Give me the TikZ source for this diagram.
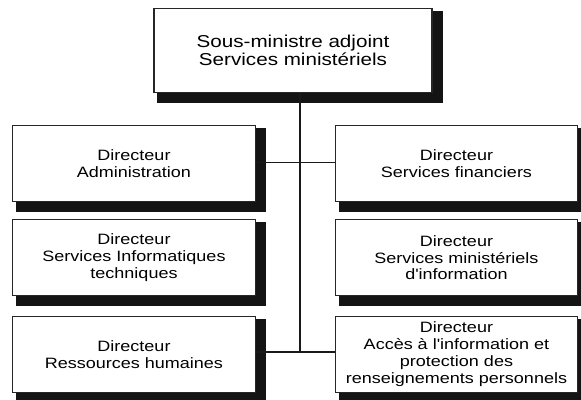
\documentclass[tikz,border=0pt]{standalone}
\usepackage{fontspec}
\newfontfamily\orgfont[FakeStretch=1.2]{Liberation Sans}
\usetikzlibrary{backgrounds}
\tikzset{
  box/.style={draw=black!85, line width=1.1pt, fill=white, align=center, inner sep=0pt,
    font=\orgfont\fontsize{15}{16.8}\selectfont},
  sidebox/.style={box, minimum width=242.5pt, minimum height=76pt},
  topbox/.style={box, minimum width=278pt, minimum height=84pt,
    font=\orgfont\fontsize{17.2}{17.4}\selectfont},
  shadowfill/.style={fill=black!92},
  link/.style={line width=1.8pt, black!90}
}
\begin{document}
\begin{tikzpicture}[x=1pt, y=-1pt]
  \useasboundingbox (0,0) rectangle (581,399);
  \clip (0,0) rectangle (581,399);
  % nodes
  \node[topbox] (top) at (293,50.5) {Sous-ministre adjoint\\Services ministériels};
  \node[sidebox] (l1) at (134,163.75) {Directeur\\Administration};
  \node[sidebox] (r1) at (456.5,163.75) {Directeur\\Services financiers};
  \node[sidebox] (l2) at (134,257.75) {Directeur\\Services Informatiques\\techniques};
  \node[sidebox] (r2) at (456.5,257.75) {Directeur\\Services ministériels\\d'information};
  \node[sidebox] (l3) at (134,354.25) {Directeur\\Ressources humaines};
  \node[sidebox] (r3) at (456.5,354.25) {Directeur\\Accès à l'information et\\protection des\\renseignements personnels};
  \coordinate (j3) at (300,352);
  \begin{scope}[on background layer]
    \foreach \n in {top,l1,r1,l2,r2,l3,r3}{
      \fill[shadowfill] ([shift={(4,3)}]\n.north west) rectangle ([shift={(10,10)}]\n.south east);
    }
    \draw[link] ([yshift=1.25pt]l1.east) -- ([yshift=1.25pt]r1.west);
    \draw[link] ([yshift=2pt]l3.east) -- ([yshift=2pt]r3.west);
    \draw[link] (top.south -| j3) -- (j3);
  \end{scope}
\end{tikzpicture}
\end{document}
